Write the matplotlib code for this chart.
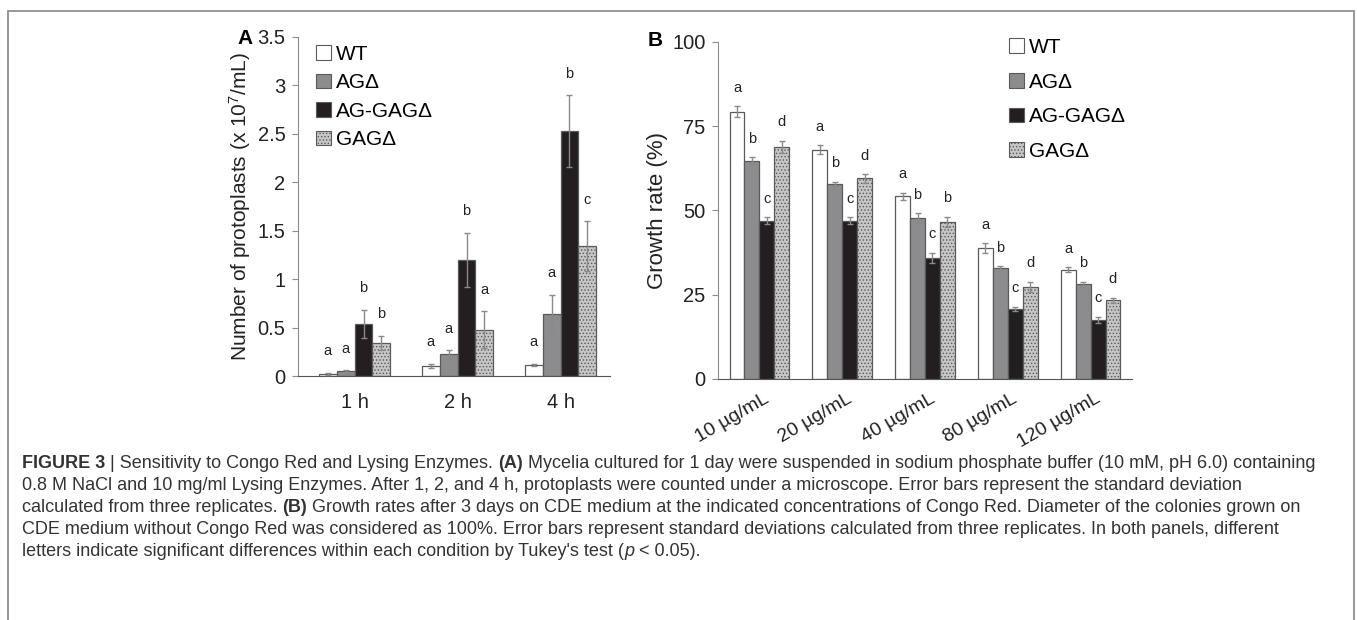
import numpy as np
import matplotlib.pyplot as plt
from matplotlib.patches import Patch, Rectangle

plt.rcParams['font.family'] = ['Liberation Sans', 'DejaVu Sans']
plt.rcParams['hatch.color'] = '#9a9a9a'
plt.rcParams['hatch.linewidth'] = 0.6

# strains
strains = ['WT', 'AGΔ', 'AG-GAGΔ', 'GAGΔ']
facecols = ['white', '#8c8c8e', '#231f20', '#c6c6c6']
hatches = [None, None, None, '.....']

# panel A: protoplasts (x 10^7/mL)
timepoints = ['1 h', '2 h', '4 h']
protoplasts = [
    [0.024, 0.107, 0.117],   # WT
    [0.05, 0.23, 0.64],      # AG
    [0.54, 1.20, 2.53],      # AG-GAG
    [0.34, 0.48, 1.34],      # GAG
]
protoplasts_err = [
    [0.01, 0.02, 0.01],
    [0.01, 0.04, 0.20],
    [0.145, 0.28, 0.37],
    [0.075, 0.19, 0.26],
]
letters_a = [
    ['a', 'a', 'a'],
    ['a', 'a', 'a'],
    ['b', 'b', 'b'],
    ['b', 'a', 'c'],
]

# panel B: growth rate (%)
conc = ['10 µg/mL', '20 µg/mL', '40 µg/mL', '80 µg/mL', '120 µg/mL']
growth = [
    [79.3, 68.1, 54.2, 38.8, 32.4],
    [64.8, 57.8, 47.7, 32.8, 28.1],
    [47.0, 47.0, 36.0, 20.8, 17.5],
    [68.9, 59.5, 46.7, 27.3, 23.4],
]
growth_err = [
    [1.6, 1.2, 1.0, 1.5, 0.7],
    [1.0, 0.8, 1.5, 0.7, 0.8],
    [1.0, 1.0, 1.5, 0.7, 1.0],
    [1.8, 1.2, 1.5, 1.5, 0.7],
]
letters_b = [
    ['a', 'a', 'a', 'a', 'a'],
    ['b', 'b', 'b', 'b', 'b'],
    ['c', 'c', 'c', 'c', 'c'],
    ['d', 'd', 'b', 'd', 'd'],
]

# caption, one list of (text, weight, style) pieces per line
caption = [
    [('FIGURE 3', 'bold', 'normal'), (' | Sensitivity to Congo Red and Lysing Enzymes. ', 'normal', 'normal'),
     ('(A)', 'bold', 'normal'),
     (' Mycelia cultured for 1 day were suspended in sodium phosphate buffer (10 mM, pH 6.0) containing', 'normal', 'normal')],
    [('0.8 M NaCl and 10 mg/ml Lysing Enzymes. After 1, 2, and 4 h, protoplasts were counted under a microscope. Error bars represent the standard deviation', 'normal', 'normal')],
    [('calculated from three replicates. ', 'normal', 'normal'), ('(B)', 'bold', 'normal'),
     (' Growth rates after 3 days on CDE medium at the indicated concentrations of Congo Red. Diameter of the colonies grown on', 'normal', 'normal')],
    [('CDE medium without Congo Red was considered as 100%. Error bars represent standard deviations calculated from three replicates. In both panels, different', 'normal', 'normal')],
    [("letters indicate significant differences within each condition by Tukey's test (", 'normal', 'normal'),
     ('p', 'normal', 'italic'), (' < 0.05).', 'normal', 'normal')],
]

W, H = 1357, 620
fig = plt.figure(figsize=(W / 100, H / 100), dpi=100)

# grey frame around the whole figure
fig.patches.append(Rectangle((8 / W, -0.05), (1354 - 8) / W, 1 - 11 / H + 0.05,
                             transform=fig.transFigure, fill=False,
                             edgecolor='#8f8f8f', linewidth=1.3))


def draw_panel(ax, cats, vals, errs, letters, width, off):
    x = np.arange(len(cats))
    for i in range(len(strains)):
        xs = x + (i - 1.5) * width
        ax.bar(xs, vals[i], width, color=facecols[i], edgecolor='#5a5a5a',
               linewidth=0.9, hatch=hatches[i], zorder=2)
        ax.errorbar(xs, vals[i], yerr=errs[i], fmt='none', ecolor='#8a8a8a',
                    elinewidth=1.0, capsize=2.5, capthick=1.0, zorder=3)
        for j in range(len(cats)):
            ax.text(xs[j], vals[i][j] + errs[i][j] + off, letters[i][j],
                    ha='center', va='center', fontsize=10.5, color='#222222')
    for s in ['top', 'right']:
        ax.spines[s].set_visible(False)
    ax.spines['left'].set_color('#8c8c8c')
    ax.spines['bottom'].set_color('#555555')
    ax.tick_params(axis='y', direction='out', length=4, color='#8c8c8c',
                   labelsize=14.5, labelcolor='#222222', pad=5)
    ax.tick_params(axis='x', length=0, labelsize=14.5, labelcolor='#222222')
    return x


# ---- panel A ----
axA = fig.add_axes([298 / W, (H - 376) / H, 312 / W, 339 / H])
xa = draw_panel(axA, timepoints, protoplasts, protoplasts_err, letters_a, 0.173, 0.22)
axA.set_xlim(-0.55, 2.48)
axA.set_ylim(0, 3.5)
axA.set_yticks([0, 0.5, 1, 1.5, 2, 2.5, 3, 3.5])
axA.set_yticklabels(['0', '0.5', '1', '1.5', '2', '2.5', '3', '3.5'])
axA.set_xticks(xa)
axA.set_xticklabels(timepoints)
axA.tick_params(axis='x', pad=12)
axA.set_ylabel('Number of protoplasts (x 10$\\mathregular{^7}$/mL)', fontsize=15, color='#222222')
axA.yaxis.set_label_coords(-0.143, 0.5)

# ---- panel B ----
axB = fig.add_axes([718 / W, (H - 379) / H, 414 / W, 337 / H])
xb = draw_panel(axB, conc, growth, growth_err, letters_b, 0.18, 5.5)
axB.set_xlim(-0.5, 4.5)
axB.set_ylim(0, 100)
axB.set_yticks([0, 25, 50, 75, 100])
axB.set_xticks(xb + 0.05)
axB.set_xticklabels(conc, rotation=30, ha='right', rotation_mode='anchor', fontsize=14)
axB.tick_params(axis='x', pad=8)
axB.set_ylabel('Growth rate (%)', fontsize=16, color='#222222')
axB.yaxis.set_label_coords(-0.12, 0.5)

# legends
handles = [Patch(facecolor=facecols[i], edgecolor='#5a5a5a', linewidth=0.8,
                 hatch=hatches[i]) for i in range(len(strains))]
fig.legend(handles, strains, loc='upper left', bbox_to_anchor=(316 / W, 1 - 45 / H),
           frameon=False, fontsize=15, handlelength=0.7, handleheight=0.7,
           handletextpad=0.25, labelspacing=0.45, borderpad=0, borderaxespad=0)
fig.legend(handles, strains, loc='upper left', bbox_to_anchor=(1009 / W, 1 - 38 / H),
           frameon=False, fontsize=15, handlelength=0.7, handleheight=0.7,
           handletextpad=0.25, labelspacing=0.75, borderpad=0, borderaxespad=0)

# panel letters
fig.text(245 / W, 1 - 38 / H, 'A', fontsize=15, fontweight='bold', ha='center', va='center')
fig.text(655 / W, 1 - 40 / H, 'B', fontsize=15, fontweight='bold', ha='center', va='center')

# caption, drawn piece by piece so bold/italic parts can sit inline
renderer = fig.canvas.get_renderer()
cap_size = 13.0
for k, pieces in enumerate(caption):
    x0 = 22
    y = 1 - (463 + 22 * k) / H
    for txt, wt, st in pieces:
        t = fig.text(x0 / W, y, txt, fontsize=cap_size, color='#333333',
                     fontweight=wt, fontstyle=st, ha='left', va='center')
        x0 += t.get_window_extent(renderer).width

fig.savefig('out.png', dpi=100)
